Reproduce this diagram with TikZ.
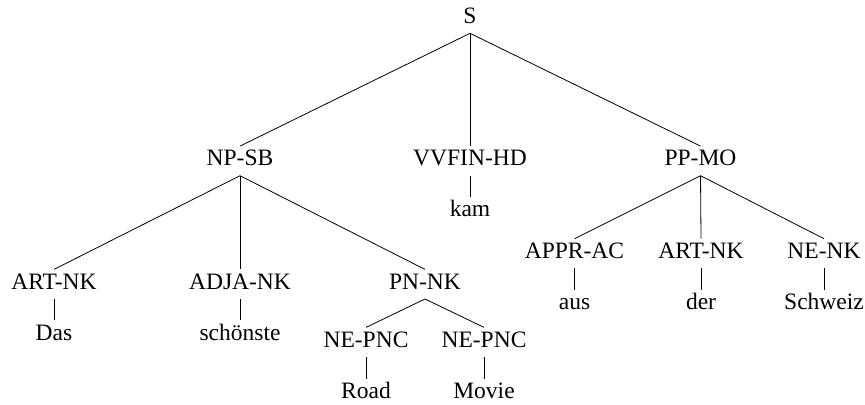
\documentclass[tikz,border=0pt]{standalone}
\usepackage{fontspec}
\setmainfont{Liberation Serif}
\begin{document}
\begin{tikzpicture}[x=0.5pt,y=-0.5pt,
  lbl/.style={anchor=base,inner sep=0pt,outer sep=0pt,text height=9.8pt,text depth=5pt,
    font=\fontsize{11.75}{14}\selectfont},
  edge/.style={line width=0.4pt,draw=black}]
\useasboundingbox (0,0) rectangle (865,405);
% level 0
\node[lbl] (s) at (470,23.3) {S};
% level 1
\node[lbl] (np) at (240,165.7) {NP-SB};
\node[lbl] (vv) at (470,165.7) {VVFIN-HD};
\node[lbl] (pp) at (700.5,165.7) {PP-MO};
\node[lbl] (kam) at (470,216.7) {kam};
% NP children
\node[lbl] (art1) at (54,289) {ART-NK};
\node[lbl] (adja) at (240,289) {ADJA-NK};
\node[lbl] (pn) at (425,289) {PN-NK};
\node[lbl] (das) at (54,340) {Das};
\node[lbl] (schoen) at (240,340) {schönste};
\node[lbl] (ne1) at (366,347) {NE-PNC};
\node[lbl] (ne2) at (484,347) {NE-PNC};
\node[lbl] (road) at (366,398.3) {Road};
\node[lbl] (movie) at (484,398.3) {Movie};
% PP children
\node[lbl] (appr) at (574.5,258.3) {APPR-AC};
\node[lbl] (art2) at (701,258.3) {ART-NK};
\node[lbl] (nenk) at (824,258.3) {NE-NK};
\node[lbl] (aus) at (574.5,309.5) {aus};
\node[lbl] (der) at (701,309.5) {der};
\node[lbl] (schweiz) at (824,309.5) {Schweiz};
% edges
\draw[edge] (s.south) -- (np.north);
\draw[edge] (s.south) -- (vv.north);
\draw[edge] (s.south) -- (pp.north);
\draw[edge] (vv.south) -- (kam.north);
\draw[edge] (np.south) -- (art1.north);
\draw[edge] (np.south) -- (adja.north);
\draw[edge] (np.south) -- (pn.north);
\draw[edge] (art1.south) -- (das.north);
\draw[edge] (adja.south) -- (schoen.north);
\draw[edge] (pn.south) -- (ne1.north);
\draw[edge] (pn.south) -- (ne2.north);
\draw[edge] (ne1.south) -- (road.north);
\draw[edge] (ne2.south) -- (movie.north);
\draw[edge] (pp.south) -- (appr.north);
\draw[edge] (pp.south) -- (art2.north);
\draw[edge] (pp.south) -- (nenk.north);
\draw[edge] (appr.south) -- (aus.north);
\draw[edge] (art2.south) -- (der.north);
\draw[edge] (nenk.south) -- (schweiz.north);
\end{tikzpicture}
\end{document}
